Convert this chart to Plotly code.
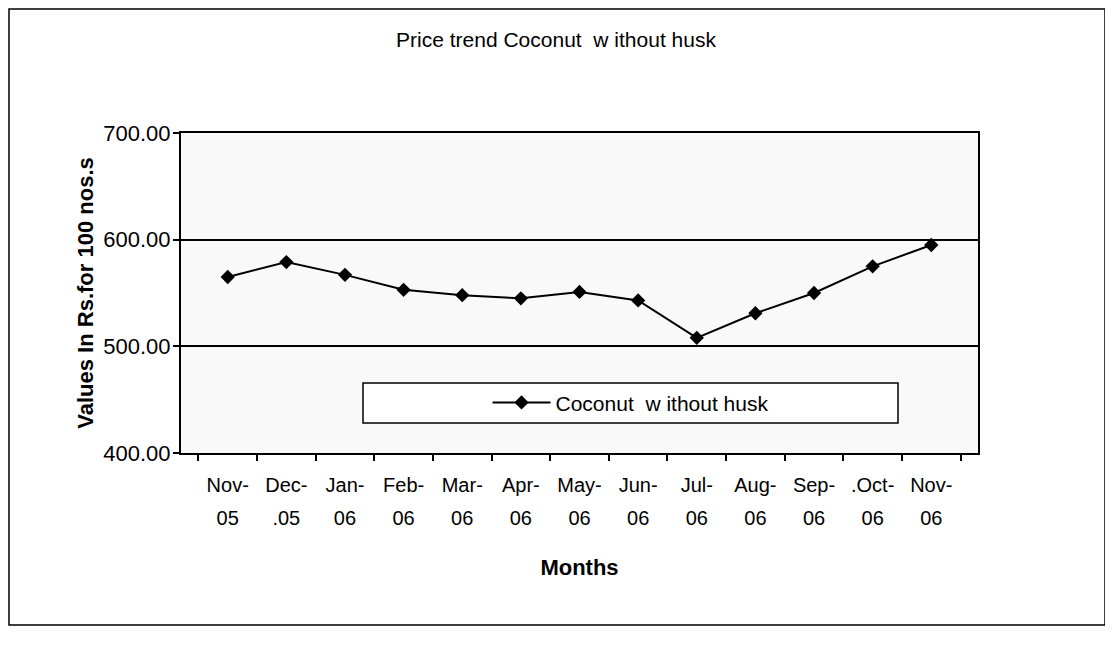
import plotly.graph_objects as go

months = ["Nov-", "Dec-", "Jan-", "Feb-", "Mar-", "Apr-", "May-", "Jun-", "Jul-", "Aug-", "Sep-", ".Oct-", "Nov-"]
years = ["05", ".05", "06", "06", "06", "06", "06", "06", "06", "06", "06", "06", "06"]
prices = [565, 579, 567, 553, 548, 545, 551, 543, 508, 531, 550, 575, 595]
series_name = "Coconut  w ithout husk"
y_ticks = [400, 500, 600, 700]

labels = [f"<span style='font-size:20px'>{m}</span><br><span style='font-size:20px'>{y}</span>"
          for m, y in zip(months, years)]

fig = go.Figure()
fig.add_trace(go.Scatter(
    x=labels, y=prices, mode="lines+markers", name=series_name,
    line=dict(color="black", width=2),
    marker=dict(symbol="diamond", size=11, color="black"),
))

font_family = "Liberation Sans, Arial, sans-serif"

# page body has an 8px offset, so layout positions are shifted accordingly
fig.update_layout(
    width=1113, height=645,
    margin=dict(l=173, r=143, t=125, b=200),
    paper_bgcolor="white", plot_bgcolor="#f9f9f9",
    font=dict(family=font_family, color="black"),
    title=dict(text="Price trend Coconut  w ithout husk", x=548 / 1113, xref="container",
               y=1 - 32 / 645, yref="container", xanchor="center", yanchor="middle",
               font=dict(size=21, family=font_family, color="black")),
    showlegend=True,
    legend=dict(x=0.564, y=0.157, xanchor="center", yanchor="middle",
                bgcolor="rgba(0,0,0,0)", borderwidth=0, itemwidth=58,
                font=dict(size=21, family=font_family, color="black")),
    xaxis=dict(
        type="category", showline=True, linecolor="black", linewidth=2, mirror=True,
        ticks="outside", tickson="boundaries", ticklen=6, tickcolor="black", tickwidth=2,
        showgrid=False, tickfont=dict(size=25), ticklabelstandoff=7,
        title=dict(text="<b>Months</b>", font=dict(size=22), standoff=32),
    ),
    yaxis=dict(
        range=[400, 700], tickvals=y_ticks, tickformat=".2f",
        showline=True, linecolor="black", linewidth=2, mirror=True,
        ticks="outside", ticklen=6, tickcolor="black", tickwidth=2,
        showgrid=True, gridcolor="black", gridwidth=1.5,
        tickfont=dict(size=22), zeroline=False, ticklabelstandoff=-2,
        title=dict(text="<b>Values In Rs.for 100 nos.s</b>", font=dict(size=22), standoff=4),
    ),
    shapes=[
        dict(type="rect", xref="paper", yref="paper",
             x0=(1 - 173) / 797, x1=(1097 - 173) / 797,
             y0=(445 - 617) / 320, y1=(445 - 1) / 320,
             line=dict(color="black", width=1.5), fillcolor="rgba(0,0,0,0)", layer="below"),
        dict(type="rect", xref="paper", yref="paper",
             x0=(363 - 181) / 797, x1=(898 - 181) / 797,
             y0=(453 - 423) / 320, y1=(453 - 383) / 320,
             line=dict(color="black", width=1.5), fillcolor="white", layer="above"),
    ],
)

fig.write_html("out.html")
